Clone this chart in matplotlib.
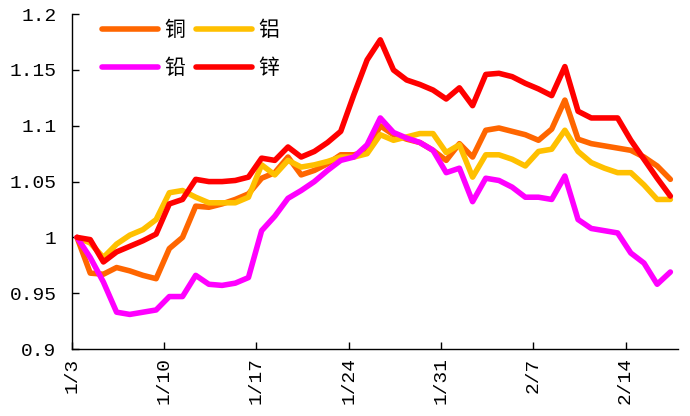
import matplotlib
matplotlib.use("Agg")
import matplotlib.pyplot as plt
import numpy as np

# daily index values, base 1/3 = 1
day = np.arange(46) + 0.4

copper = [1.000, 0.968, 0.967, 0.973, 0.970, 0.966, 0.963, 0.990, 1.000, 1.028,
          1.027, 1.030, 1.034, 1.039, 1.053, 1.058, 1.072, 1.056, 1.060, 1.066,
          1.074, 1.074, 1.077, 1.100, 1.092, 1.088, 1.085, 1.078, 1.069, 1.084,
          1.072, 1.096, 1.098, 1.095, 1.092, 1.087, 1.097, 1.123, 1.088, 1.084,
          1.082, 1.080, 1.078, 1.072, 1.064, 1.052]
aluminium = [1.000, 0.995, 0.982, 0.994, 1.002, 1.007, 1.016, 1.040, 1.042, 1.036,
             1.031, 1.031, 1.031, 1.036, 1.065, 1.056, 1.069, 1.063, 1.065, 1.068,
             1.072, 1.072, 1.075, 1.092, 1.087, 1.090, 1.093, 1.093, 1.076, 1.083,
             1.054, 1.074, 1.074, 1.070, 1.064, 1.077, 1.079, 1.096, 1.077, 1.067,
             1.062, 1.058, 1.058, 1.047, 1.034, 1.034]
lead = [1.000, 0.982, 0.960, 0.933, 0.931, 0.933, 0.935, 0.947, 0.947, 0.966,
        0.958, 0.957, 0.959, 0.964, 1.006, 1.019, 1.035, 1.042, 1.050, 1.060,
        1.069, 1.072, 1.083, 1.107, 1.094, 1.089, 1.085, 1.078, 1.058, 1.062,
        1.032, 1.053, 1.051, 1.045, 1.036, 1.036, 1.034, 1.055, 1.016, 1.008,
        1.006, 1.004, 0.986, 0.977, 0.958, 0.969]
zinc = [1.000, 0.998, 0.978, 0.987, 0.992, 0.997, 1.003, 1.030, 1.034, 1.052,
        1.050, 1.050, 1.051, 1.054, 1.071, 1.069, 1.081, 1.072, 1.077, 1.085,
        1.095, 1.128, 1.159, 1.177, 1.150, 1.141, 1.137, 1.132, 1.124, 1.134,
        1.118, 1.146, 1.147, 1.144, 1.138, 1.133, 1.127, 1.153, 1.113, 1.107,
        1.107, 1.107, 1.087, 1.070, 1.053, 1.037]

tick_days = [0, 7, 14, 21, 28, 35, 42]
tick_labels = ["1/3", "1/10", "1/17", "1/24", "1/31", "2/7", "2/14"]
y_ticks = [0.9, 0.95, 1.0, 1.05, 1.1, 1.15, 1.2]
y_labels = ["0.9", "0.95", "1", "1.05", "1.1", "1.15", "1.2"]

fig = plt.figure(figsize=(6.9, 4.16), dpi=100)
ax = fig.add_axes([0.104, 0.161, 0.879, 0.805])

lw = 4.0
style = dict(lw=lw, solid_capstyle="round", solid_joinstyle="round")
l_cu, = ax.plot(day, copper, color="#FF6600", label="铜", **style)
l_al, = ax.plot(day, aluminium, color="#FFC000", label="铝", **style)
l_pb, = ax.plot(day, lead, color="#FF00FF", label="铅", **style)
l_zn, = ax.plot(day, zinc, color="#FF0000", label="锌", **style)

ax.set_xlim(0, 46)
ax.set_ylim(0.9, 1.2)
ax.set_xticks(tick_days)
ax.set_xticklabels(tick_labels, rotation=90, fontfamily="Liberation Mono", fontsize=14)
ax.set_yticks(y_ticks)
ax.set_yticklabels(y_labels, fontfamily="Liberation Mono", fontsize=14)
ax.tick_params(direction="in", length=5, width=1)
ax.tick_params(axis="y", pad=11)
ax.tick_params(axis="x", pad=6)

for s in ["top", "right"]:
    ax.spines[s].set_visible(False)
for s in ["left", "bottom"]:
    ax.spines[s].set_linewidth(1)

leg = ax.legend([l_cu, l_pb, l_al, l_zn], ["铜", "铅", "铝", "锌"], ncol=2,
                loc="upper left", bbox_to_anchor=(0.05, 0.985), frameon=False,
                prop={"family": "Noto Sans CJK SC", "size": 15},
                handlelength=2.7, handletextpad=0.3, columnspacing=0.5,
                labelspacing=0.75, borderpad=0, borderaxespad=0)

fig.savefig("out.png", dpi=100)
